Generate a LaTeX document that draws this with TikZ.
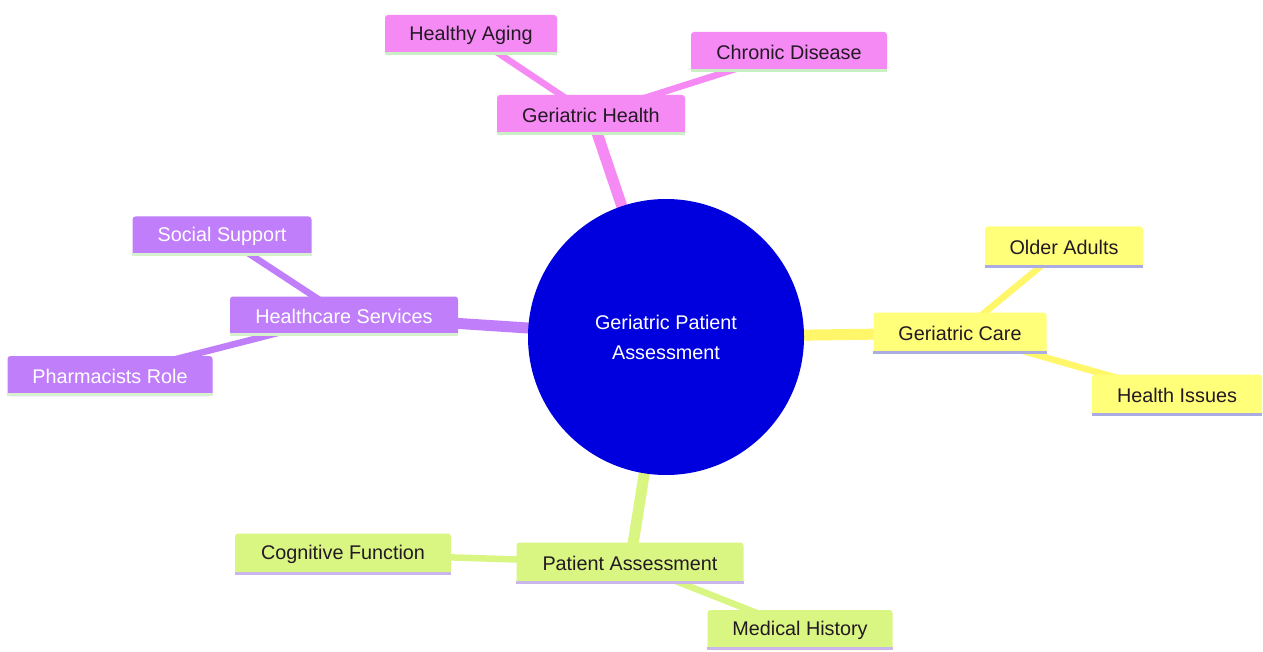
\documentclass[tikz,border=0pt]{standalone}
\usepackage{fontspec}
\setmainfont{Liberation Sans}
\usetikzlibrary{backgrounds}
\definecolor{pinkfill}{RGB}{245,138,245}
\definecolor{pinkul}{RGB}{200,240,195}
\definecolor{purplefill}{RGB}{192,126,250}
\definecolor{purpleul}{RGB}{215,240,205}
\definecolor{yellowfill}{RGB}{255,255,122}
\definecolor{yellowedge}{RGB}{255,246,105}
\definecolor{yellowul}{RGB}{172,172,228}
\definecolor{greenfill}{RGB}{218,246,130}
\definecolor{greenul}{RGB}{200,182,236}
\definecolor{rootblue}{RGB}{0,0,222}
\definecolor{darktext}{RGB}{35,25,35}
\begin{document}
\begin{tikzpicture}[x=1pt,y=-1pt,
  font=\fontsize{19.8}{24}\selectfont,
  box/.style={rectangle, rounded corners=3pt, inner sep=0pt, text=darktext},
  pinkbox/.style={box, fill=pinkfill},
  purplebox/.style={box, fill=purplefill, text=white},
  yellowbox/.style={box, fill=yellowfill},
  greenbox/.style={box, fill=greenfill},
  lvlone/.style={line width=11pt},
  lvltwo/.style={line width=6.5pt},
  ul/.style={line width=3pt}]
\useasboundingbox (0,0) rectangle (1263,652);

% root
\node[circle, fill=rootblue, minimum size=276pt, inner sep=0pt, text=white, align=center,
  font=\fontsize{19.8}{30}\selectfont] (root) at (666,337) {Geriatric Patient\\Assessment};

% boxes
\node[pinkbox, minimum width=188pt, minimum height=40pt] (gh) at (591,115) {Geriatric Health};
\node[pinkbox, minimum width=172pt, minimum height=40pt] (ha) at (471,35) {Healthy Aging};
\node[pinkbox, minimum width=196pt, minimum height=40pt] (cd) at (789,52) {Chronic Disease};
\node[purplebox, minimum width=228pt, minimum height=39pt] (hs) at (344,316) {Healthcare Services};
\node[purplebox, minimum width=179pt, minimum height=39pt] (ss) at (222,236) {Social Support};
\node[purplebox, minimum width=205pt, minimum height=40pt] (pr) at (110,376) {Pharmacists Role};
\node[yellowbox, minimum width=173pt, minimum height=41pt] (gc) at (960,333) {Geriatric Care};
\node[yellowbox, minimum width=158pt, minimum height=41pt] (oa) at (1064,247) {Older Adults};
\node[yellowbox, minimum width=170pt, minimum height=41pt] (hi) at (1177,395) {Health Issues};
\node[greenbox, minimum width=227pt, minimum height=41pt] (pa) at (630,563) {Patient Assessment};
\node[greenbox, minimum width=216pt, minimum height=41pt] (cf) at (343,554) {Cognitive Function};
\node[greenbox, minimum width=185pt, minimum height=40pt] (mh) at (800,630) {Medical History};

% underlines
\foreach \n in {gh,ha,cd}{\draw[ul, pinkul] ([yshift=1.5pt]\n.south west) -- ([yshift=1.5pt]\n.south east);}
\foreach \n in {hs,ss,pr}{\draw[ul, purpleul] ([yshift=1.5pt]\n.south west) -- ([yshift=1.5pt]\n.south east);}
\foreach \n in {gc,oa,hi}{\draw[ul, yellowul] ([yshift=1.5pt]\n.south west) -- ([yshift=1.5pt]\n.south east);}
\foreach \n in {pa,cf,mh}{\draw[ul, greenul] ([yshift=1.5pt]\n.south west) -- ([yshift=1.5pt]\n.south east);}

% edges behind everything
\begin{scope}[on background layer]
\fill[white] (0,0) rectangle (1263,652);
\draw[lvlone, pinkfill] (root.center) -- (gh.center);
\draw[lvltwo, pinkfill] (gh.center) -- (ha.center);
\draw[lvltwo, pinkfill] (gh.center) -- (cd.center);
\draw[lvlone, purplefill] (root.center) -- (hs.center);
\draw[lvltwo, purplefill] (hs.center) -- (ss.center);
\draw[lvltwo, purplefill] (hs.center) -- (pr.center);
\draw[lvlone, yellowedge] (root.center) -- (gc.center);
\draw[lvltwo, yellowedge] (gc.center) -- (oa.center);
\draw[lvltwo, yellowedge] (gc.center) -- (hi.center);
\draw[lvlone, greenfill] (root.center) -- (pa.center);
\draw[lvltwo, greenfill] (pa.center) -- (cf.center);
\draw[lvltwo, greenfill] (pa.center) -- (mh.center);
\end{scope}
\end{tikzpicture}
\end{document}
